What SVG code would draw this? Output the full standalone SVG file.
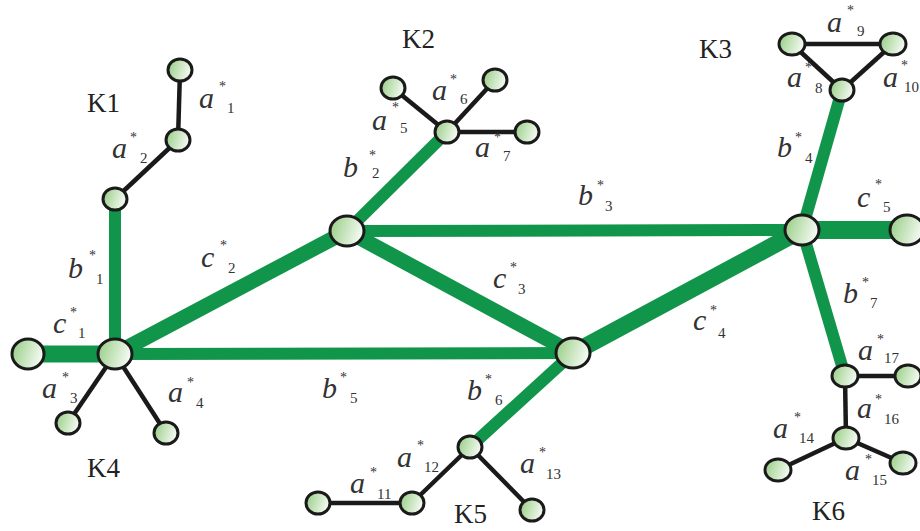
<svg xmlns="http://www.w3.org/2000/svg" width="920" height="531" viewBox="0 0 920 531">
<defs>
<linearGradient id="ng" x1="0" y1="0" x2="1" y2="0.3">
<stop offset="0" stop-color="#93cb7f"/>
<stop offset="1" stop-color="#f2f9f0"/>
</linearGradient>
<style>
.g{stroke:#10954a;stroke-linecap:butt;fill:none}
.k{stroke:#1a1a1a;stroke-width:4.5;fill:none}
.n ellipse{fill:url(#ng);stroke:#1a1a1a;stroke-width:3}
.L{font-family:'Liberation Serif','Times New Roman','DejaVu Serif',serif;font-style:italic;font-size:30px;fill:#333}
.s{font-style:normal;font-size:14px}
.d{font-style:normal;font-size:15px}
.K{font-family:'Liberation Serif','Times New Roman','DejaVu Serif',serif;font-size:27px;fill:#222}
</style>
</defs>
<rect width="920" height="531" fill="#ffffff"/>
<g id="connectors">
<line class="g" stroke-width="12" x1="115" y1="199" x2="115" y2="354"/>
<line class="g" stroke-width="17" x1="28" y1="354" x2="115" y2="354"/>
<line class="g" stroke-width="15" x1="115" y1="354" x2="347" y2="231"/>
<line class="g" stroke-width="12" x1="115" y1="354" x2="573" y2="353"/>
<line class="g" stroke-width="12" x1="347" y1="231" x2="447" y2="132"/>
<line class="g" stroke-width="12" x1="347" y1="231" x2="802" y2="230"/>
<line class="g" stroke-width="15" x1="347" y1="231" x2="573" y2="353"/>
<line class="g" stroke-width="17" x1="573" y1="353" x2="802" y2="230"/>
<line class="g" stroke-width="12" x1="573" y1="353" x2="470" y2="447"/>
<line class="g" stroke-width="12" x1="802" y1="230" x2="842" y2="90"/>
<line class="g" stroke-width="18" x1="802" y1="230" x2="907" y2="230"/>
<line class="g" stroke-width="12" x1="802" y1="230" x2="845" y2="376"/>
<line class="k" x1="180" y1="70" x2="178" y2="140"/>
<line class="k" x1="178" y1="140" x2="115" y2="199"/>
<line class="k" x1="115" y1="354" x2="68" y2="423"/>
<line class="k" x1="115" y1="354" x2="166" y2="433"/>
<line class="k" x1="447" y1="132" x2="393" y2="88"/>
<line class="k" x1="447" y1="132" x2="495" y2="80"/>
<line class="k" x1="447" y1="132" x2="527" y2="132"/>
<line class="k" x1="842" y1="90" x2="792" y2="44"/>
<line class="k" x1="792" y1="44" x2="893" y2="44"/>
<line class="k" x1="842" y1="90" x2="893" y2="44"/>
<line class="k" x1="318" y1="503" x2="412" y2="503"/>
<line class="k" x1="412" y1="503" x2="470" y2="447"/>
<line class="k" x1="470" y1="447" x2="532" y2="510"/>
<line class="k" x1="845" y1="376" x2="908" y2="376"/>
<line class="k" x1="845" y1="376" x2="846" y2="438"/>
<line class="k" x1="846" y1="438" x2="778" y2="470"/>
<line class="k" x1="846" y1="438" x2="903" y2="463"/>
</g>
<g id="K1" class="n">
<ellipse cx="180" cy="70" rx="12" ry="11"/>
<ellipse cx="178" cy="140" rx="12" ry="11"/>
<ellipse cx="115" cy="199" rx="12" ry="11"/>
</g>
<g id="K4" class="n">
<ellipse cx="115" cy="354" rx="17" ry="15"/>
<ellipse cx="28" cy="354" rx="16" ry="15"/>
<ellipse cx="68" cy="423" rx="12" ry="11"/>
<ellipse cx="166" cy="433" rx="12" ry="11"/>
</g>
<g id="K2" class="n">
<ellipse cx="347" cy="231" rx="17" ry="15"/>
<ellipse cx="447" cy="132" rx="12" ry="11"/>
<ellipse cx="393" cy="88" rx="12" ry="11"/>
<ellipse cx="495" cy="80" rx="12" ry="11"/>
<ellipse cx="527" cy="132" rx="12" ry="11"/>
</g>
<g id="Kmid" class="n">
<ellipse cx="573" cy="353" rx="17" ry="15"/>
</g>
<g id="K3" class="n">
<ellipse cx="802" cy="230" rx="17" ry="15"/>
<ellipse cx="907" cy="230" rx="17" ry="15"/>
<ellipse cx="842" cy="90" rx="12" ry="11"/>
<ellipse cx="792" cy="44" rx="13" ry="11"/>
<ellipse cx="893" cy="44" rx="13" ry="11"/>
</g>
<g id="K5" class="n">
<ellipse cx="470" cy="447" rx="12" ry="11"/>
<ellipse cx="412" cy="503" rx="12" ry="11"/>
<ellipse cx="318" cy="503" rx="12" ry="11"/>
<ellipse cx="532" cy="510" rx="12" ry="11"/>
</g>
<g id="K6" class="n">
<ellipse cx="845" cy="376" rx="13" ry="11"/>
<ellipse cx="908" cy="376" rx="13" ry="11"/>
<ellipse cx="846" cy="438" rx="13" ry="11"/>
<ellipse cx="778" cy="470" rx="13" ry="11"/>
<ellipse cx="903" cy="463" rx="13" ry="11"/>
</g>
<g id="cluster-labels">
<text class="K" x="87" y="112">K1</text>
<text class="K" x="402" y="48">K2</text>
<text class="K" x="699" y="58">K3</text>
<text class="K" x="87" y="477">K4</text>
<text class="K" x="454" y="523">K5</text>
<text class="K" x="812" y="520">K6</text>
</g>
<g id="edge-labels">
<text class="L" x="199" y="108">a<tspan class="s" x="219" y="91">*</tspan><tspan class="d" x="227" y="113">1</tspan></text>
<text class="L" x="112" y="158">a<tspan class="s" x="130" y="142">*</tspan><tspan class="d" x="140" y="163">2</tspan></text>
<text class="L" x="68" y="278">b<tspan class="s" x="89" y="260">*</tspan><tspan class="d" x="96" y="284">1</tspan></text>
<text class="L" x="53" y="333">c<tspan class="s" x="70" y="317">*</tspan><tspan class="d" x="78" y="338">1</tspan></text>
<text class="L" x="42" y="398">a<tspan class="s" x="62" y="382">*</tspan><tspan class="d" x="70" y="403">3</tspan></text>
<text class="L" x="168" y="402">a<tspan class="s" x="187" y="387">*</tspan><tspan class="d" x="196" y="408">4</tspan></text>
<text class="L" x="201" y="267">c<tspan class="s" x="220" y="250">*</tspan><tspan class="d" x="228" y="273">2</tspan></text>
<text class="L" x="343" y="177">b<tspan class="s" x="369" y="160">*</tspan><tspan class="d" x="372" y="178">2</tspan></text>
<text class="L" x="372" y="130">a<tspan class="s" x="392" y="112">*</tspan><tspan class="d" x="400" y="133">5</tspan></text>
<text class="L" x="432" y="100">a<tspan class="s" x="450" y="84">*</tspan><tspan class="d" x="460" y="104">6</tspan></text>
<text class="L" x="475" y="157">a<tspan class="s" x="494" y="142">*</tspan><tspan class="d" x="503" y="161">7</tspan></text>
<text class="L" x="578" y="205">b<tspan class="s" x="597" y="190">*</tspan><tspan class="d" x="605" y="211">3</tspan></text>
<text class="L" x="493" y="288">c<tspan class="s" x="510" y="272">*</tspan><tspan class="d" x="518" y="294">3</tspan></text>
<text class="L" x="693" y="330">c<tspan class="s" x="710" y="315">*</tspan><tspan class="d" x="718" y="338">4</tspan></text>
<text class="L" x="777" y="157">b<tspan class="s" x="795" y="142">*</tspan><tspan class="d" x="805" y="163">4</tspan></text>
<text class="L" x="787" y="87">a<tspan class="s" x="805" y="72">*</tspan><tspan class="d" x="815" y="93">8</tspan></text>
<text class="L" x="827" y="32">a<tspan class="s" x="847" y="15">*</tspan><tspan class="d" x="857" y="36">9</tspan></text>
<text class="L" x="883" y="87">a<tspan class="s" x="901" y="70">*</tspan><tspan class="d" x="904" y="92">10</tspan></text>
<text class="L" x="857" y="207">c<tspan class="s" x="875" y="189">*</tspan><tspan class="d" x="883" y="212">5</tspan></text>
<text class="L" x="322" y="398">b<tspan class="s" x="340" y="382">*</tspan><tspan class="d" x="350" y="403">5</tspan></text>
<text class="L" x="467" y="400">b<tspan class="s" x="485" y="384">*</tspan><tspan class="d" x="495" y="405">6</tspan></text>
<text class="L" x="350" y="493">a<tspan class="s" x="370" y="477">*</tspan><tspan class="d" x="377" y="499">11</tspan></text>
<text class="L" x="397" y="467">a<tspan class="s" x="417" y="450">*</tspan><tspan class="d" x="424" y="472">12</tspan></text>
<text class="L" x="520" y="473">a<tspan class="s" x="539" y="457">*</tspan><tspan class="d" x="546" y="479">13</tspan></text>
<text class="L" x="843" y="303">b<tspan class="s" x="862" y="287">*</tspan><tspan class="d" x="870" y="308">7</tspan></text>
<text class="L" x="858" y="360">a<tspan class="s" x="877" y="344">*</tspan><tspan class="d" x="884" y="363">17</tspan></text>
<text class="L" x="857" y="418">a<tspan class="s" x="875" y="404">*</tspan><tspan class="d" x="884" y="424">16</tspan></text>
<text class="L" x="773" y="438">a<tspan class="s" x="794" y="422">*</tspan><tspan class="d" x="799" y="443">14</tspan></text>
<text class="L" x="845" y="480">a<tspan class="s" x="865" y="464">*</tspan><tspan class="d" x="872" y="485">15</tspan></text>
</g>
</svg>
